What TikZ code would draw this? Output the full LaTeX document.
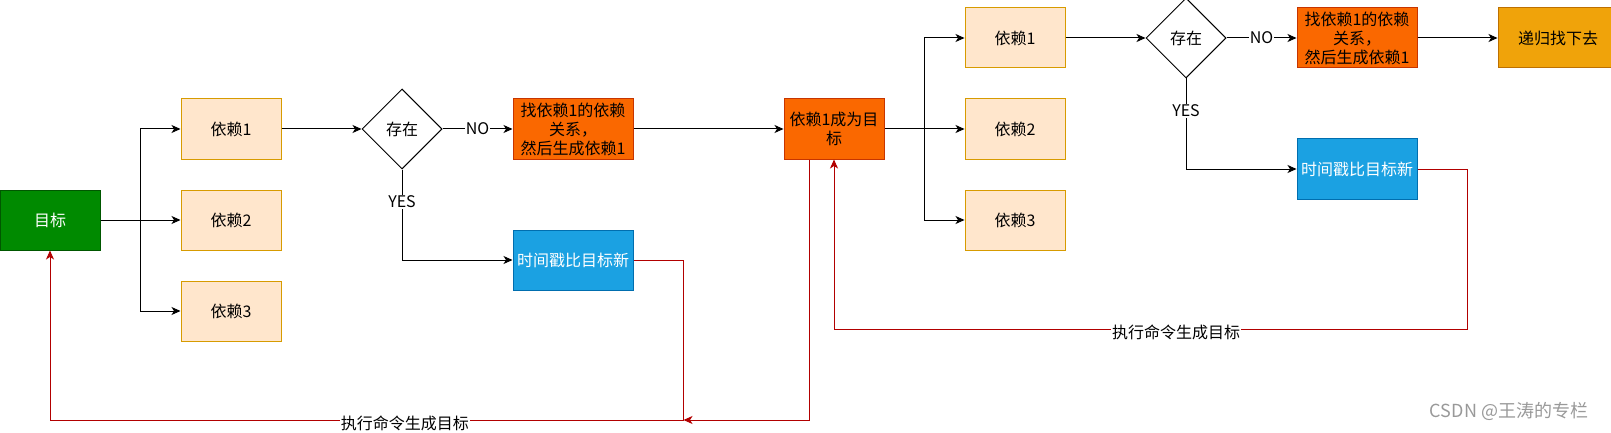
\documentclass[tikz,border=0pt]{standalone}
\usepackage{fontspec}
\setmainfont{Noto Sans CJK SC}
\usetikzlibrary{shapes.geometric,arrows.meta,positioning,calc}
\definecolor{goalfill}{HTML}{008A00}
\definecolor{goalline}{HTML}{005700}
\definecolor{depfill}{HTML}{FFE6CC}
\definecolor{depline}{HTML}{D79B00}
\definecolor{workfill}{HTML}{FA6800}
\definecolor{workline}{HTML}{C73500}
\definecolor{newfill}{HTML}{1BA1E2}
\definecolor{newline}{HTML}{006EAF}
\definecolor{recfill}{HTML}{F0A30A}
\definecolor{recline}{HTML}{BD7000}
\definecolor{backred}{HTML}{B20000}
\newcommand{\diagfont}{\fontsize{16pt}{19pt}\selectfont}
\tikzset{
  target/.style ={rectangle,draw=goalline,fill=goalfill,text=white,minimum width=100pt,
                  minimum height=60pt,align=center,inner sep=2pt,font=\diagfont},
  dep/.style    ={rectangle,draw=depline,fill=depfill,minimum width=100pt,
                  minimum height=60pt,align=center,inner sep=2pt,font=\diagfont},
  check/.style  ={diamond,draw,fill=white,minimum width=80pt,minimum height=80pt,
                  aspect=1,inner sep=0pt,font=\diagfont},
  work/.style   ={rectangle,draw=workline,fill=workfill,minimum width=120pt,
                  minimum height=60pt,align=center,inner sep=2pt,font=\diagfont},
  newer/.style  ={rectangle,draw=newline,fill=newfill,text=white,minimum width=120pt,
                  minimum height=60pt,align=center,inner sep=2pt,font=\diagfont},
  recur/.style  ={rectangle,draw=recline,fill=recfill,minimum width=120pt,
                  minimum height=60pt,align=center,inner sep=2pt,font=\diagfont},
  tag/.style    ={fill=white,inner sep=1pt,font=\diagfont},
  arr/.style    ={-{Stealth[length=9pt,width=8pt,inset=2.5pt]},line width=1pt},
  back/.style   ={arr,draw=backred}
}
\begin{document}
\begin{tikzpicture}[x=1pt,y=-1pt,line width=1pt]
  \useasboundingbox (0,0) rectangle (1611,433);
  % Nodes
  \node (goal)  [target] at (50,220)                        {目标};
  \node (dep1a) [dep, above right=30pt and 80pt of goal]    {依赖1};
  \node (dep2a) [dep, right=80pt of goal]                   {依赖2};
  \node (dep3a) [dep, below right=30pt and 80pt of goal]    {依赖3};
  \node (dia1)  [check, right=80pt of dep1a]                {存在};
  \node (mid1)  [work, right=70pt of dia1]                  {找依赖1的依赖\\关系，\\然后生成依赖1};
  \node (blue1) [newer, below=70pt of mid1]                 {时间戳比目标新};
  \node (goal2) [work, minimum width=100pt, right=150pt of mid1] {依赖1成为目\\标};
  \node (dep1b) [dep, above right=30pt and 80pt of goal2]   {依赖1};
  \node (dep2b) [dep, right=80pt of goal2]                  {依赖2};
  \node (dep3b) [dep, below right=30pt and 80pt of goal2]   {依赖3};
  \node (dia2)  [check, right=80pt of dep1b]                {存在};
  \node (mid2)  [work, right=70pt of dia2]                  {找依赖1的依赖\\关系，\\然后生成依赖1};
  \node (blue2) [newer, below=70pt of mid2]                 {时间戳比目标新};
  \node (rec)   [recur, right=80pt of mid2]                 {递归找下去};
  \node (mark)  [text=black!40, font=\fontsize{18pt}{20pt}\selectfont] at (1509,411) {CSDN @王涛的专栏};

  \coordinate (fork1) at ($(goal.east)!0.5!(dep2a.west)$);
  \coordinate (fork2) at ($(goal2.east)!0.5!(dep2b.west)$);
  \coordinate (turn1) at ($(blue1.east)+(50,160)$);
  \coordinate (turn2) at ($(blue2.east)+(50,160)$);

  % Arrows
  \draw [arr] (goal) -- (dep2a);
  \draw [arr] (fork1) |- (dep1a);
  \draw [arr] (fork1) |- (dep3a);
  \draw [arr] (dep1a) -- (dia1);
  \draw [arr] (dia1) -- node[tag] {NO} (mid1);
  \draw [arr] (dia1) |- node[tag, pos=0.18] {YES} (blue1);
  \draw [arr] (mid1) -- (goal2);
  \draw [arr] (goal2) -- (dep2b);
  \draw [arr] (fork2) |- (dep1b);
  \draw [arr] (fork2) |- (dep3b);
  \draw [arr] (dep1b) -- (dia2);
  \draw [arr] (dia2) -- node[tag] {NO} (mid2);
  \draw [arr] (dia2) |- node[tag, pos=0.18] {YES} (blue2);
  \draw [arr] (mid2) -- (rec);

  % back to target
  \draw [back] (blue1) -| (turn1) -| node[tag, text=black, pos=0.22, yshift=-3pt] {执行命令生成目标} (goal);
  \draw [back] ([xshift=-25pt]goal2.south) |- (turn1);
  \draw [back] (blue2) -| (turn2) -| node[tag, text=black, pos=0.23, yshift=-3pt] {执行命令生成目标} (goal2);
\end{tikzpicture}
\end{document}
